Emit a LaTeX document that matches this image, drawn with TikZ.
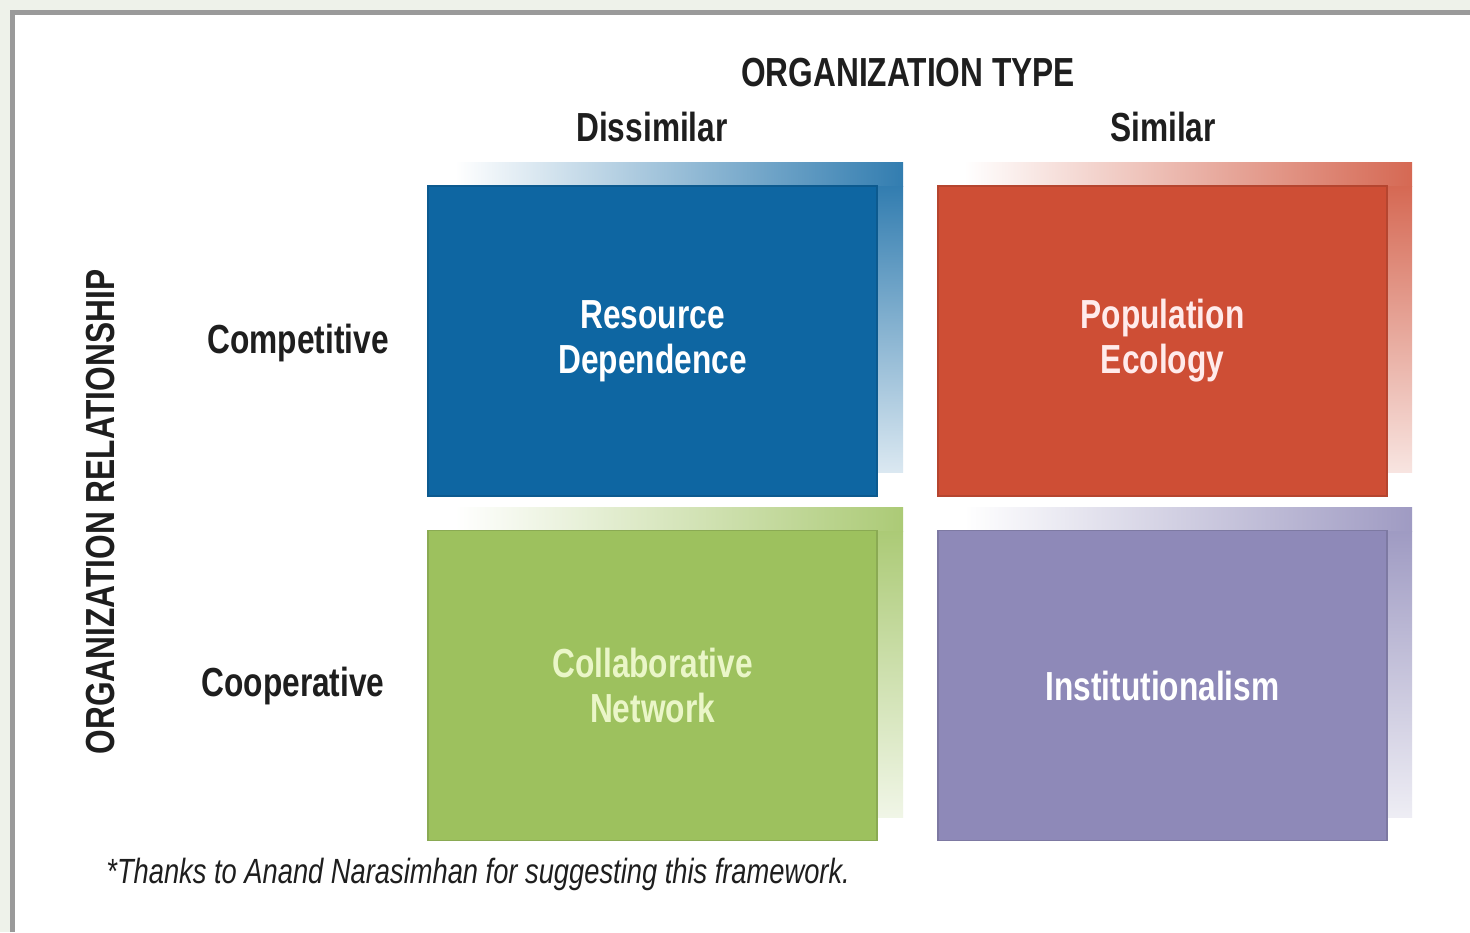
\documentclass[tikz,border=0pt]{standalone}
\usepackage{fontspec}
\newfontfamily\condfont{Liberation Sans}[FakeStretch=0.78]
\definecolor{cblue}{HTML}{0E66A2}
\definecolor{cred}{HTML}{CE4E35}
\definecolor{cgreen}{HTML}{9DC15E}
\definecolor{cpurple}{HTML}{8E89B8}
\definecolor{frame}{HTML}{9A9A9A}
\definecolor{outer}{HTML}{EEF2EA}
\definecolor{ink}{HTML}{1E1E1E}
\definecolor{greentext}{HTML}{EAF6C8}
\tikzset{
  head/.style={font=\condfont\bfseries\fontsize{20.3}{22.5}\selectfont, text=ink, inner sep=0pt},
  quad/.style={draw=#1!88!black, line width=0.6pt, fill=#1, minimum width=224.5pt, minimum height=155pt,
     align=center, font=\condfont\bfseries\fontsize{20.3}{22.5}\selectfont, inner sep=0pt},
}
\newcommand{\backframe}[3]{% x0 y0 color : front box top-left
  \shade[left color=white, right color=#3!85] (#1+27,#2-24) rectangle (#1+475,#2);
  \shade[top color=#3!85, bottom color=#3!15] (#1+449,#2) rectangle (#1+475,#2+286);
}
\begin{document}
\begin{tikzpicture}[x=0.5pt,y=-0.5pt]
\useasboundingbox (0,0) rectangle (1470,932);
\fill[outer] (0,0) rectangle (1470,932);
\fill[white] (12,12) rectangle (1470,932);
\draw[frame, line width=2.5pt] (12,932) -- (12,12) -- (1470,12);

\backframe{428}{186}{cblue}
\backframe{937}{186}{cred}
\backframe{428}{531}{cgreen}
\backframe{937}{531}{cpurple}

\node[quad=cblue, text=white] (rd) at (652.5,341) {Resource\\Dependence};
\node[quad=cred, text=red!8] (pe) at (1162.5,341) {Population\\Ecology};
\node[quad=cgreen, text=greentext] (cn) at (652.5,685.5) {Collaborative\\Network};
\node[quad=cpurple, text=white] (in) at (1162.5,685.5) {Institutionalism};

\node[head] (title) at (908,73) {ORGANIZATION TYPE};
\node[head] (dis) at (652,127) {Dissimilar};
\node[head] (sim) at (1163,127) {Similar};
\node[head] (comp) at (298,343) {Competitive};
\node[head] (coop) at (293,686) {Cooperative};
\node[head, rotate=90] (rel) at (101,512) {ORGANIZATION RELATIONSHIP};
\node[font=\condfont\itshape\fontsize{17.5}{20}\selectfont, text=ink, inner sep=0pt, anchor=west] (note) at (106,874)
  {*Thanks to Anand Narasimhan for suggesting this framework.};
\end{tikzpicture}
\end{document}
